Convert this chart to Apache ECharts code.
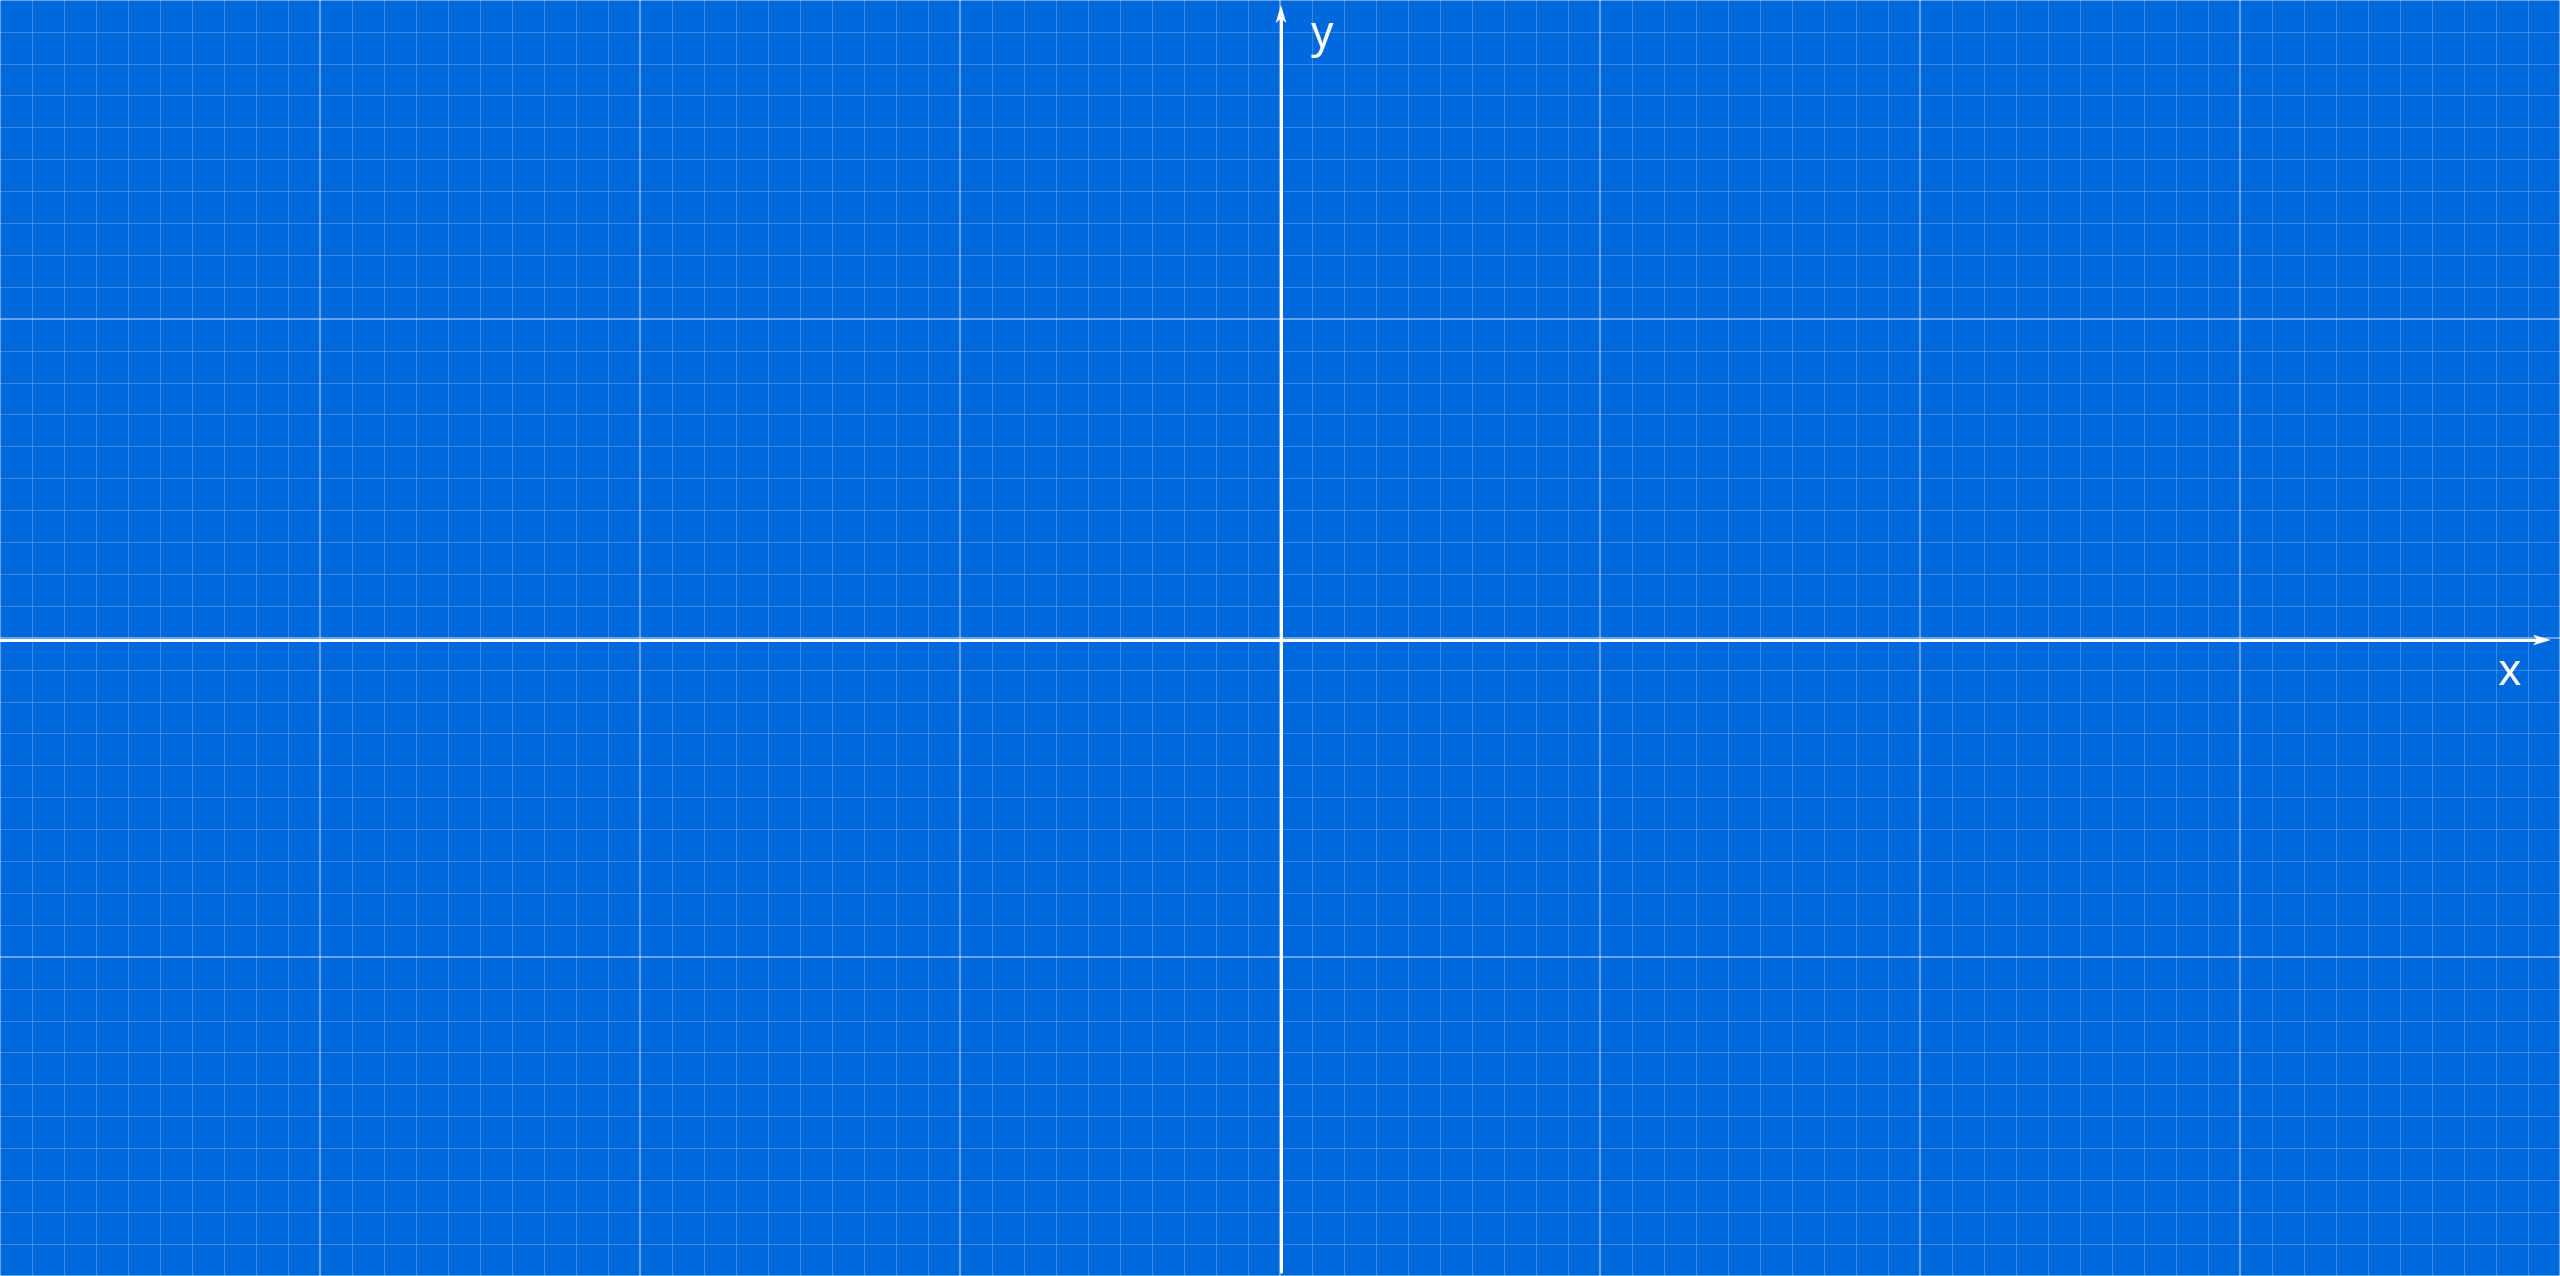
<!DOCTYPE html>
<html>
<head>
<meta charset="utf-8">
<style>
  html, body { margin: 0; padding: 0; background: #0068DD; }
  #chart { width: 2560px; height: 1276px; }
</style>
<script src="https://cdn.jsdelivr.net/npm/echarts@6/dist/echarts.min.js"></script>
</head>
<body>
<div id="chart"></div>
<script>
// Axis names
const axisNames = ['x', 'y'];
// Background graph-paper range (units), major step and minor subdivisions
const paperX = [0, 80];
const paperY = [0, 40];
const majorStep = 10;
const minorSplits = 10;
// Coordinate-axis ranges (pixel-like units so that the origin sits where the reference shows)
const axisX = [-1281, 1261];
const axisY = [-632, 626];

const chart = echarts.init(document.getElementById('chart'), null, { renderer: 'canvas' });

const nameFont = '"Noto Sans", "Open Sans", sans-serif';

const option = {
  backgroundColor: '#0068DD',
  animation: false,
  grid: [
    { left: 0, top: 0, width: 2560, height: 1280 },
    { left: 0, top: 14, right: 18, bottom: 4 }
  ],
  xAxis: [
    {
      gridIndex: 0, type: 'value', min: paperX[0], max: paperX[1], interval: majorStep,
      axisLine: { show: false }, axisTick: { show: false }, axisLabel: { show: false },
      splitLine: { show: true, lineStyle: { color: 'rgba(255,255,255,0.4)', width: 2 } },
      minorTick: { show: false, splitNumber: minorSplits },
      minorSplitLine: { show: true, lineStyle: { color: 'rgba(255,255,255,0.22)', width: 1 } }
    },
    {
      gridIndex: 1, type: 'value', min: axisX[0], max: axisX[1],
      name: axisNames[0], nameLocation: 'end', nameGap: -32,
      nameTextStyle: { color: '#ffffff', fontFamily: nameFont, fontSize: 44, lineHeight: 44, align: 'center', verticalAlign: 'top', padding: [10, 0, 0, 0] },
      axisLine: { show: true, onZero: true, symbol: ['none', 'arrow'], symbolSize: [8, 18], symbolOffset: [0, 9], lineStyle: { color: '#ffffff', width: 3 } },
      axisTick: { show: false }, axisLabel: { show: false }, splitLine: { show: false }
    }
  ],
  yAxis: [
    {
      gridIndex: 0, type: 'value', min: paperY[0], max: paperY[1], interval: majorStep,
      axisLine: { show: false }, axisTick: { show: false }, axisLabel: { show: false },
      splitLine: { show: true, lineStyle: { color: 'rgba(255,255,255,0.4)', width: 2 } },
      minorTick: { show: false, splitNumber: minorSplits },
      minorSplitLine: { show: true, lineStyle: { color: 'rgba(255,255,255,0.22)', width: 1 } }
    },
    {
      gridIndex: 1, type: 'value', min: axisY[0], max: axisY[1],
      name: axisNames[1], nameLocation: 'end', nameGap: 2,
      nameTextStyle: { color: '#ffffff', fontFamily: nameFont, fontSize: 44, lineHeight: 44, align: 'left', verticalAlign: 'top', padding: [0, 0, 0, 30] },
      axisLine: { show: true, onZero: true, symbol: ['none', 'arrow'], symbolSize: [8, 18], symbolOffset: [0, 9], lineStyle: { color: '#ffffff', width: 3 } },
      axisTick: { show: false }, axisLabel: { show: false }, splitLine: { show: false }
    }
  ],
  series: [
    { type: 'line', xAxisIndex: 0, yAxisIndex: 0, data: [], silent: true },
    { type: 'line', xAxisIndex: 1, yAxisIndex: 1, data: [], silent: true }
  ]
};

chart.setOption(option);
</script>
</body>
</html>
